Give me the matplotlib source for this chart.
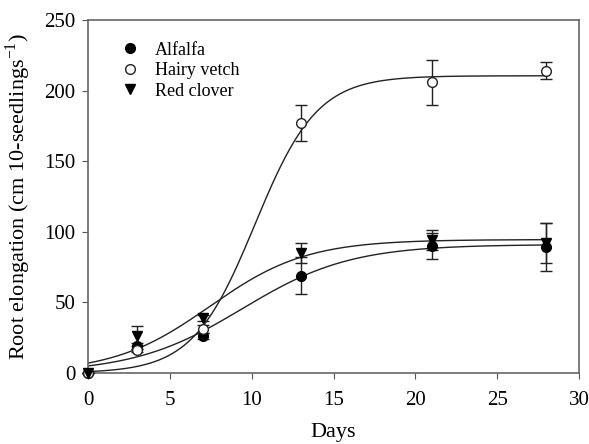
import numpy as np
import matplotlib.pyplot as plt

# measured data (days, mean, error)
days = [0, 3, 7, 13, 21, 28]

alfalfa = [0, 19, 26, 69, 90, 89]
alfalfa_err = [0, 2, 2, 13, 9, 17]

vetch = [0, 16, 31, 177, 206, 214]
vetch_err = [0, 1, 3, 13, 16, 6]

clover = [0, 26, 39, 85, 94, 92]
clover_err = [0, 7, 2, 7, 7, 14]

# sigmoid fit parameters: a, x0, b
alfalfa_fit = [91.0, 9.42, 3.31]
vetch_fit = [210.5, 10.2, 1.9]
clover_fit = [94.5, 7.45, 2.95]


def sigmoid(x, a, x0, b):
    return a / (1 + np.exp(-(x - x0) / b))


plt.rcParams['font.family'] = 'Liberation Serif'
plt.rcParams['mathtext.fontset'] = 'custom'
plt.rcParams['mathtext.rm'] = 'Liberation Serif'

fig = plt.figure(figsize=(5.89, 4.44), dpi=100)
ax = fig.add_axes([88 / 589, 1 - 373 / 444, 491 / 589, 353 / 444])

xs = np.linspace(0, 28, 300)
for p in (alfalfa_fit, vetch_fit, clover_fit):
    ax.plot(xs, sigmoid(xs, *p), color='#222222', lw=1.0, zorder=2)

eb = dict(ls='none', ecolor='#222222', elinewidth=1.0, capsize=4.5, capthick=1.0,
          zorder=3, clip_on=False)
ax.errorbar(days, alfalfa, yerr=alfalfa_err, marker='o', ms=7, mfc='black', mec='black',
            label='Alfalfa', **eb)
ax.errorbar(days, vetch, yerr=vetch_err, marker='o', ms=7, mfc='white', mec='#222222',
            label='Hairy vetch', **eb)
ax.errorbar(days, clover, yerr=clover_err, marker='v', ms=7, mfc='black', mec='black',
            label='Red clover', **eb)

ax.set_xlim(0, 30)
ax.set_ylim(0, 250)
ax.set_xticks(range(0, 31, 5))
ax.set_yticks(range(0, 251, 50))
ax.tick_params(direction='out', length=4, color='#555555', labelsize=15)
ax.tick_params(axis='x', pad=9)
ax.tick_params(axis='y', pad=5)
for s in ax.spines.values():
    s.set_color('#666666')
    s.set_linewidth(1.2)

ax.set_xlabel('Days', fontsize=16, labelpad=9)
ax.set_ylabel(r'Root elongation (cm 10-seedlings$^{\mathrm{-1}}$)', fontsize=16, labelpad=8)

handles, labels = ax.get_legend_handles_labels()
handles = [h[0] for h in handles]
ax.legend(handles, labels, loc='upper left', frameon=False, fontsize=13,
          bbox_to_anchor=(0.03, 0.985), handletextpad=0.8, labelspacing=0.2,
          handlelength=1.2)

fig.savefig('out.png', dpi=100)
